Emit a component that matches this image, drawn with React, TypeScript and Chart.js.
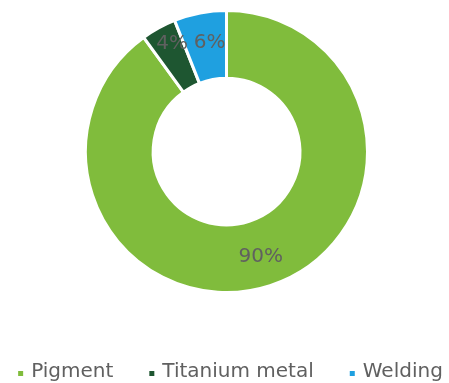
import React, { useEffect, useRef } from "react";
import { Chart, registerables } from "chart.js";

Chart.register(...registerables);

const categories = ["Pigment", "Titanium metal", "Welding"];
const shares = [90, 4, 6];
const valueLabels = ["90%", "4%", "6%"];
const colors = ["#80BC3C", "#1E5631", "#1FA0E0"];

const FONT = "'DejaVu Sans', Verdana, sans-serif";
const TEXT_COLOR = "#606060";

const labelPlugin = {
  id: "sliceLabels",
  afterDatasetsDraw(chart: any) {
    const ctx = chart.ctx;
    const meta = chart.getDatasetMeta(0);
    ctx.save();
    ctx.font = `20px ${FONT}`;
    ctx.fillStyle = TEXT_COLOR;
    ctx.textAlign = "center";
    ctx.textBaseline = "middle";
    meta.data.forEach((arc: any, i: number) => {
      const p = arc.getProps(["x", "y", "startAngle", "endAngle", "innerRadius", "outerRadius"], true);
      const mid = (p.startAngle + p.endAngle) / 2;
      let r = (p.innerRadius + p.outerRadius) / 2 + 4;
      if (i === 1) r += 12;
      const x = p.x + Math.cos(mid) * r + (i === 1 ? 5 : i === 2 ? 4 : 0);
      const y = p.y + Math.sin(mid) * r;
      ctx.fillText(valueLabels[i], x, y);
    });
    ctx.restore();
  },
};

const legendPlugin = {
  id: "bottomLegend",
  afterDraw(chart: any) {
    const ctx = chart.ctx;
    ctx.save();
    ctx.font = `20px ${FONT}`;
    ctx.textBaseline = "alphabetic";
    ctx.textAlign = "left";
    const box = 5;
    const gap = 8;
    const spacing = 36;
    const widths = categories.map((c) => box + gap + ctx.measureText(c).width);
    const total = widths.reduce((a, b) => a + b, 0) + spacing * (categories.length - 1);
    let x = chart.width / 2 + 6 - total / 2;
    const baseline = 377;
    categories.forEach((c, i) => {
      ctx.fillStyle = colors[i];
      ctx.fillRect(x, baseline - 6, box, box);
      ctx.fillStyle = TEXT_COLOR;
      ctx.fillText(c, x + box + gap, baseline);
      x += widths[i] + spacing;
    });
    ctx.restore();
  },
};

export default function App() {
  const ref = useRef<HTMLCanvasElement>(null);
  useEffect(() => {
    if (!ref.current) return;
    const chart = new Chart(ref.current, {
      type: "doughnut",
      data: {
        labels: categories,
        datasets: [
          {
            data: shares,
            backgroundColor: colors,
            borderColor: "#ffffff",
            borderWidth: 3,
          },
        ],
      },
      options: {
        animation: false,
        responsive: false,
        cutout: "52%",
        layout: { padding: { top: 9, bottom: 89, left: 4, right: 0 } },
        plugins: {
          legend: { display: false },
          tooltip: { enabled: false },
        },
      },
      plugins: [labelPlugin, legendPlugin],
    });
    return () => chart.destroy();
  }, []);
  return (
    <div style={{ position: "fixed", left: 0, top: 0, width: 449, height: 383, overflow: "hidden", background: "#fff" }}>
      <canvas ref={ref} width={449} height={383} style={{ display: "block", width: 449, height: 383 }} />
    </div>
  );
}
